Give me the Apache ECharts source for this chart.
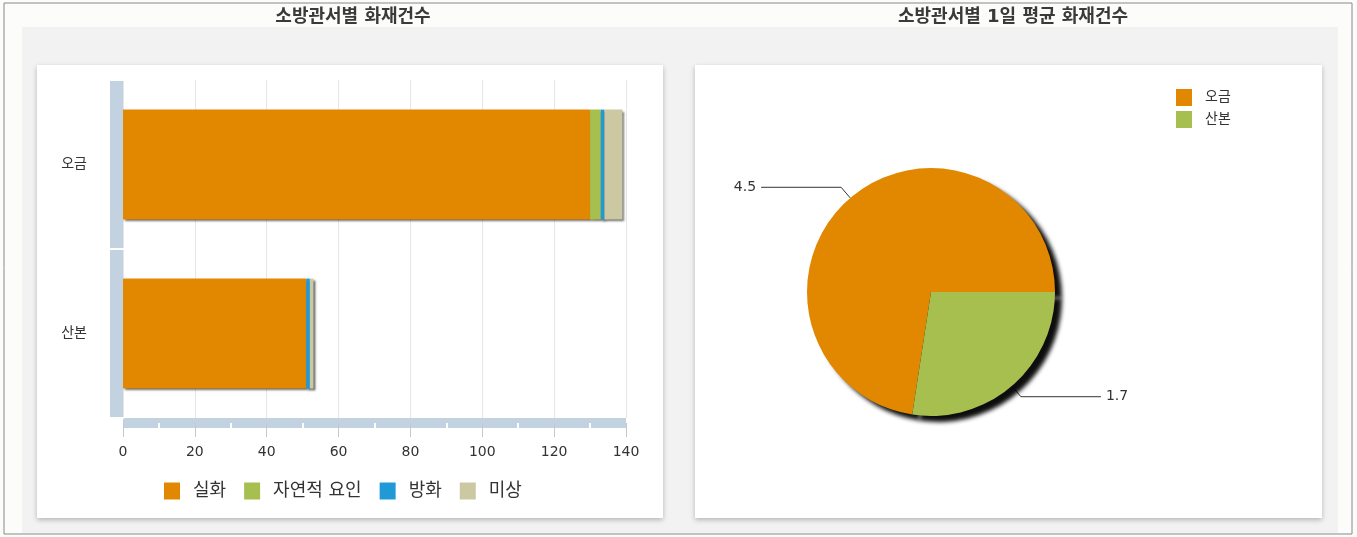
<!DOCTYPE html>
<html>
<head>
<meta charset="utf-8">
<script src="https://cdn.jsdelivr.net/npm/echarts@6/dist/echarts.min.js"></script>
<style>
  html, body { margin: 0; padding: 0; background: #fcfcfa; }
  #main { width: 1357px; height: 537px; }
</style>
</head>
<body>
<div id="main"></div>
<script>
// data
var stations = ['오금', '산본'];
var causes = ['실화', '자연적 요인', '방화', '미상'];
var causeColors = ['#e28800', '#a6bf4f', '#1f9ad7', '#cbc8a2'];
var fireCounts = [
  [130, 51],   // 실화
  [3, 0],      // 자연적 요인
  [1, 1],      // 방화
  [5, 1]       // 미상
];
var dailyAvg = [4.5, 1.7];
var pieColors = ['#e28800', '#a6bf4f'];
var xTicks = { min: 0, max: 140, interval: 20 };

var font = 'Verdana, "DejaVu Sans", "Noto Sans CJK KR", sans-serif';
var chart = echarts.init(document.getElementById('main'));

var barSeries = causes.map(function (c, i) {
  return {
    name: c,
    type: 'bar',
    stack: 'total',
    barWidth: '65%',
    data: fireCounts[i],
    itemStyle: {
      color: causeColors[i],
      shadowColor: 'rgba(50,50,50,0.7)',
      shadowBlur: 2,
      shadowOffsetX: 2,
      shadowOffsetY: 2
    },
    z: 3
  };
});

var option = {
  backgroundColor: '#fcfcfa',
  animation: false,
  textStyle: { fontFamily: font },
  graphic: [
    { type: 'rect', shape: { x: 4, y: 3, width: 1348, height: 531 }, style: { fill: 'none', stroke: '#888', lineWidth: 1 }, silent: true, z: -10 },
    { type: 'rect', shape: { x: 22, y: 27, width: 1316, height: 506 }, style: { fill: '#f2f2f2' }, silent: true, z: -9 },
    { type: 'rect', shape: { x: 37, y: 65, width: 626, height: 453 }, style: { fill: '#ffffff', shadowColor: 'rgba(0,0,0,0.25)', shadowBlur: 5, shadowOffsetY: 2 }, silent: true, z: -8 },
    { type: 'rect', shape: { x: 695, y: 65, width: 627, height: 453 }, style: { fill: '#ffffff', shadowColor: 'rgba(0,0,0,0.25)', shadowBlur: 5, shadowOffsetY: 2 }, silent: true, z: -8 }
  ],
  title: [
    { text: '소방관서별 화재건수', left: 348, top: 3, textAlign: 'center',
      textStyle: { fontSize: 18, fontWeight: 'bold', color: '#3a3a3a', fontFamily: font } },
    { text: '소방관서별 1일 평균 화재건수', left: 1008, top: 3, textAlign: 'center',
      textStyle: { fontSize: 18, fontWeight: 'bold', color: '#3a3a3a', fontFamily: font } }
  ],
  legend: [
    {
      data: causes,
      left: 164, top: 482,
      padding: 0,
      itemWidth: 16, itemHeight: 17, itemGap: 18,
      icon: 'rect',
      textStyle: { fontSize: 18, color: '#333', fontFamily: font, padding: [0, 0, 0, 8] }
    },
    {
      data: stations,
      orient: 'vertical',
      left: 1171, top: 84,
      itemWidth: 16, itemHeight: 17, itemGap: 5,
      icon: 'rect',
      textStyle: { fontSize: 14, color: '#333', fontFamily: font, padding: [0, 0, 0, 8] }
    }
  ],
  grid: { left: 123, top: 80, width: 503, height: 338 },
  xAxis: {
    type: 'value',
    min: xTicks.min, max: xTicks.max, interval: xTicks.interval,
    offset: 5,
    axisLine: { show: true, lineStyle: { color: '#c3d2e0', width: 10, cap: 'butt' } },
    axisTick: { show: true, length: 14, lineStyle: { color: '#c8c8c8' } },
    minorTick: { show: true, splitNumber: 2, length: 5, lineStyle: { color: '#ffffff', width: 2 } },
    axisLabel: { fontSize: 14, color: '#333', margin: 22, fontFamily: font },
    splitLine: { show: true, lineStyle: { color: '#e6e6e6' } }
  },
  yAxis: [
    {
      type: 'category',
      data: stations,
      inverse: true,
      offset: 7,
      axisLine: { show: true, onZero: false, lineStyle: { color: '#c3d2e0', width: 13, cap: 'butt' } },
      axisTick: { show: true, length: 8, lineStyle: { color: '#ffffff', width: 2 } },
      axisLabel: { fontSize: 14, color: '#333', margin: 29, fontFamily: font },
      splitLine: { show: false }
    },
    {
      type: 'category',
      data: stations,
      inverse: true,
      position: 'left',
      offset: 7,
      axisLine: { show: false, onZero: false },
      axisTick: { show: true, inside: true, length: 8, lineStyle: { color: '#ffffff', width: 2 } },
      axisLabel: { show: false },
      splitLine: { show: false }
    }
  ],
  series: barSeries.concat([
    {
      name: '1일 평균',
      type: 'pie',
      center: [931, 292],
      radius: 124,
      startAngle: 0,
      clockwise: false,
      data: stations.map(function (s, i) {
        return { name: s, value: dailyAvg[i], itemStyle: { color: pieColors[i] } };
      }),
      itemStyle: {
        shadowColor: 'rgba(0,0,0,0.95)',
        shadowBlur: 4,
        shadowOffsetX: 7,
        shadowOffsetY: 6
      },
      label: {
        show: true,
        position: 'outside',
        formatter: '{c}',
        fontSize: 14,
        color: '#333',
        fontFamily: font
      },
      labelLine: {
        show: true,
        length: 14,
        length2: 80,
        lineStyle: { color: '#333', width: 1 }
      },
      emphasis: { disabled: true }
    }
  ])
};

chart.setOption(option);
</script>
</body>
</html>
